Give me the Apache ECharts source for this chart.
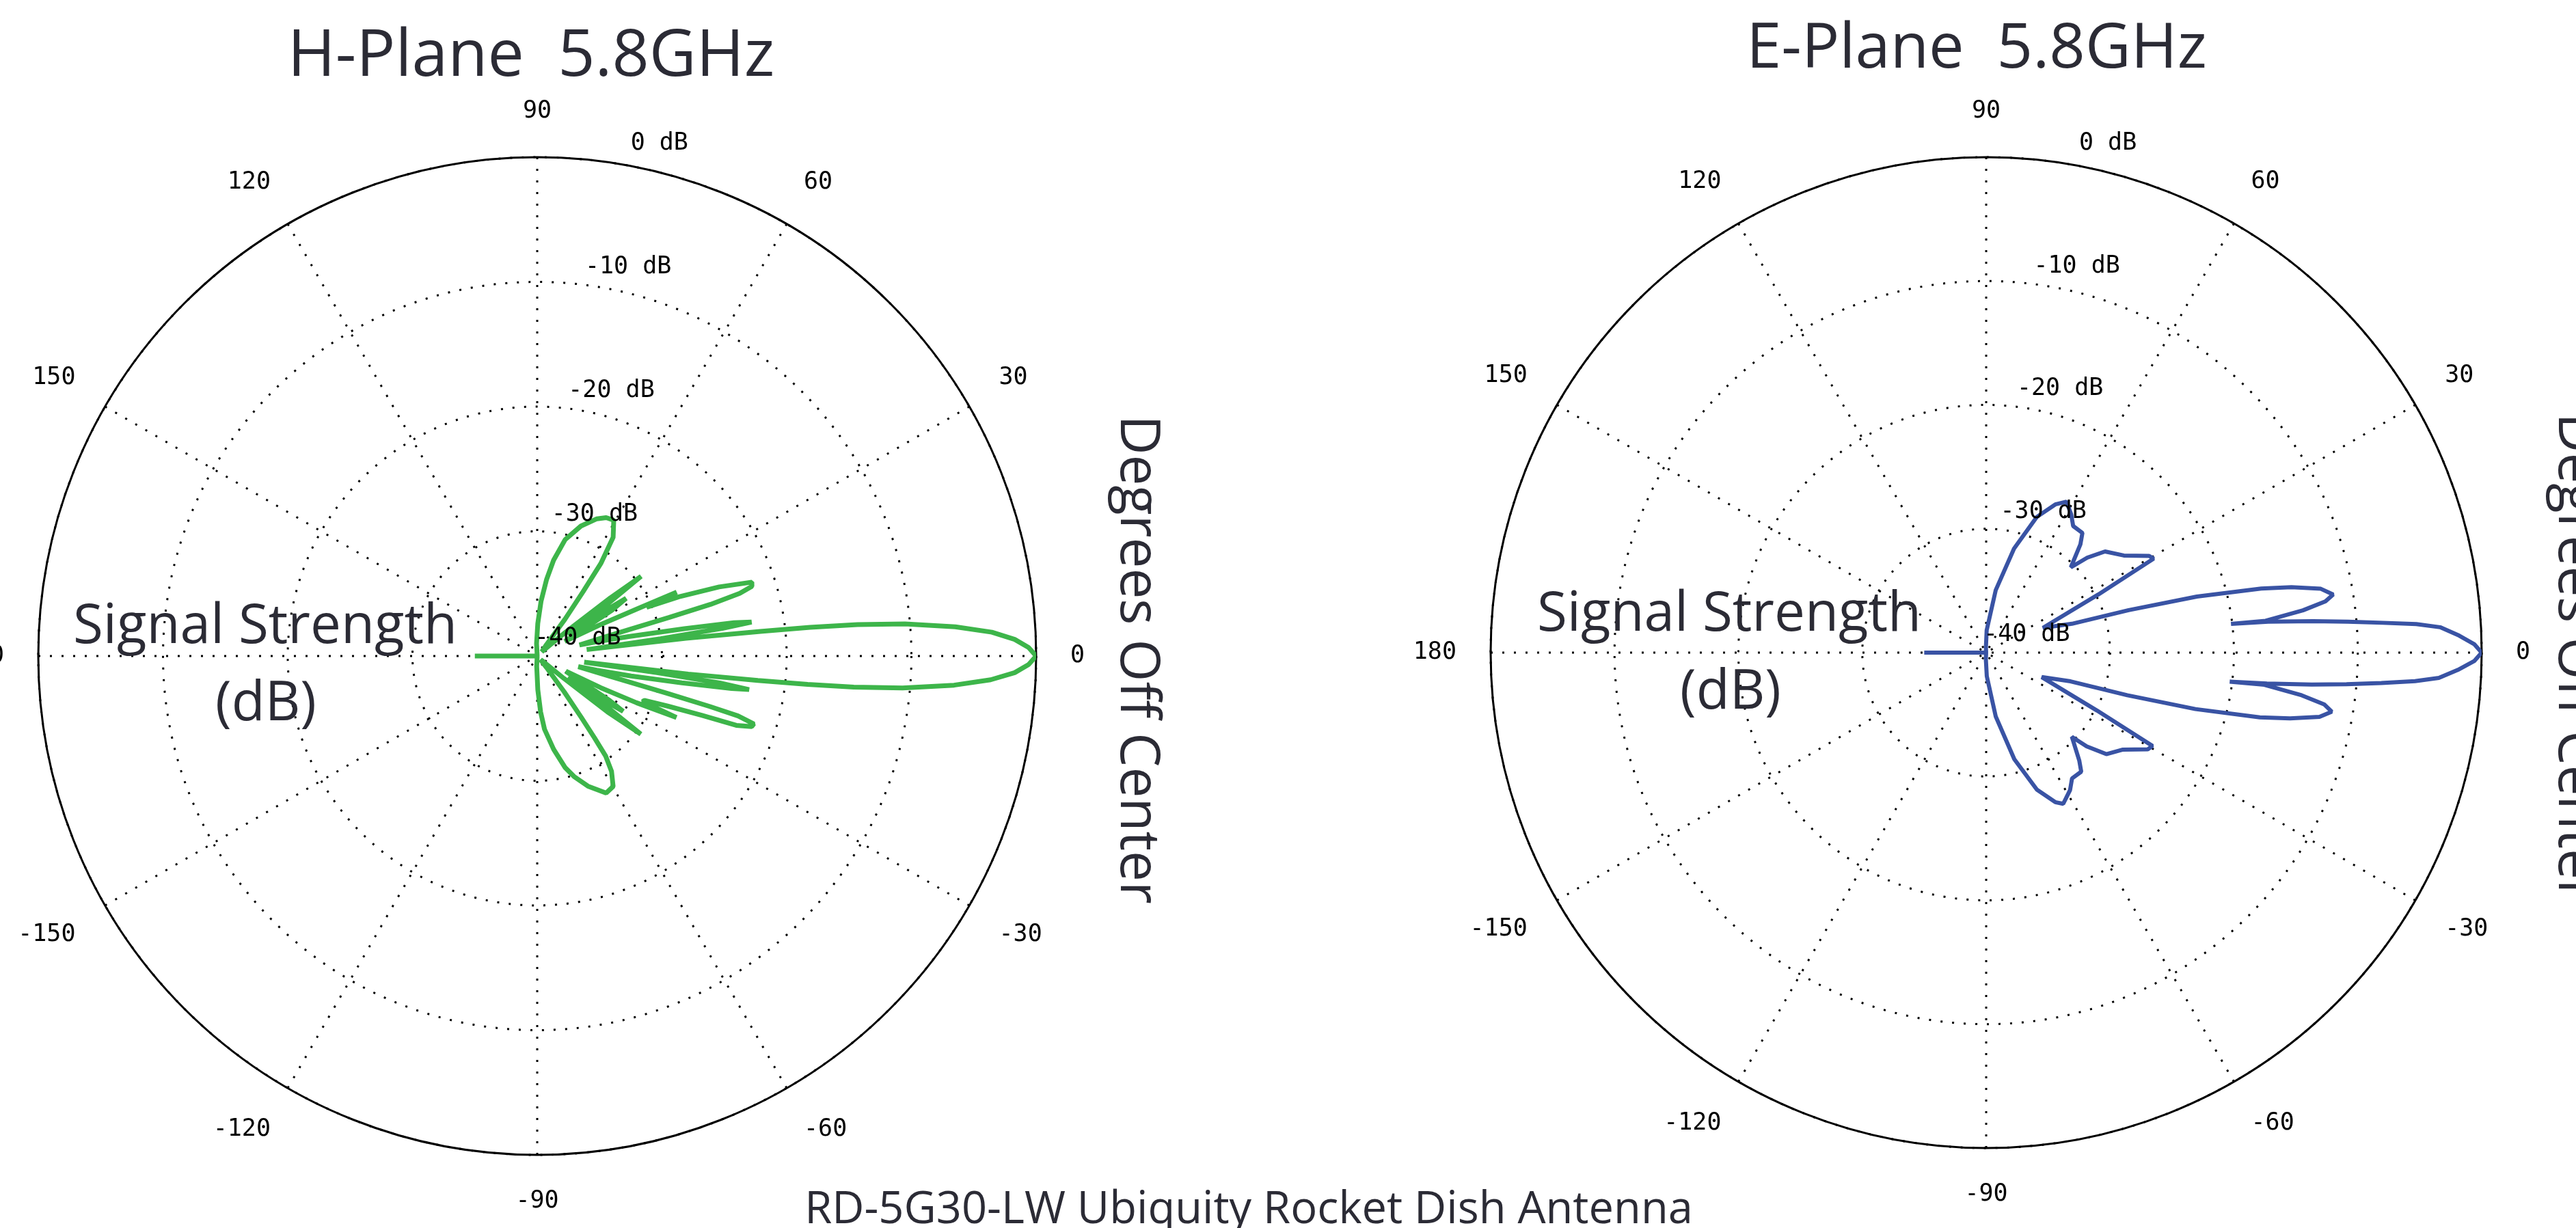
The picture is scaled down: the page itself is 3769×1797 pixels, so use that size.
<!DOCTYPE html>
<html>
<head>
<meta charset="utf-8">
<title>RD-5G30-LW radiation patterns</title>
<script src="https://cdn.jsdelivr.net/npm/echarts@6.0.0/dist/echarts.min.js"></script>
<style>
  html, body { margin: 0; padding: 0; background: #fff; }
  #chart { width: 3769px; height: 1797px; }
</style>
</head>
<body>
<div id="chart"></div>
<script>
// H-plane trace (green), degrees off center -> dB, in drawing order from -180 round to +180
const hAngle = [
  -180, -178, -100, -93, -89, -86.5, -84.3, -80, -76, -73, -68.7, -63.3, -59.8, -57.2, -55.6, -55, -54.3, -53, -51, -47, -43,
  -40, -38.5, -37, -36, -35, -34, -32.8, -31.5, -30, -28, -26.5, -25.2, -23.8, -23.4, -22.5, -21, -19.8, -19.2, -18.2, -17.4,
  -16.6, -16.3, -16, -15.6, -14.5, -13.4, -12, -10.5, -9.5, -9, -8.4, -7.9, -7.4, -6.8, -6.3, -6, -5.6, -5, -4, -3, -2, -1,
  0, 1, 2, 3, 4, 5, 5.6, 6, 6.3, 6.8, 7.4, 8, 8.5, 9, 9.6, 10.5, 12, 13.5, 14.6, 15.8, 16.3, 16.6, 17.2, 18, 19, 20.8, 22.7,
  24, 24.6, 25.2, 26.5, 28, 30, 31.5, 33, 34, 35.2, 36.5, 37.5, 38.5, 40, 43, 47, 51, 53, 54.5, 55.5, 57.4, 60.6, 63.5, 66.5,
  71.4, 76.5, 80.3, 83, 86, 89, 93, 100, 178, 180
];
const hGain = [
  -35, -40, -40, -39.2, -37.3, -35.5, -34.1, -32.4, -30.8, -29.9, -28.8, -27.7, -27.9, -29, -30.3, -32, -34, -36.4, -38.8, -39.6, -39.4,
  -37.2, -32.8, -29.6, -33.2, -37, -34.2, -31.8, -33.2, -36.3, -37.4, -34.3, -31.2, -27.8, -30.8, -30.7, -28.8, -26, -23.1, -21.9, -21.8,
  -23.2, -25.6, -29.2, -34, -36.6, -35.1, -32.3, -28.2, -24.2, -22.8, -25.2, -30.3, -36.2, -27.8, -22.2, -18.2, -14.5, -10.6, -6.5, -3.6, -1.7, -0.6,
  0, -0.6, -1.7, -3.5, -6.4, -10.4, -14.2, -18, -22, -28, -36, -30, -25, -22.6, -24, -28, -32.5, -35, -36.5, -34, -29, -25.5, -23, -21.9, -21.8, -24.4, -27.7,
  -30.4, -27.7, -31, -34.5, -37.5, -36, -33, -31.5, -34, -37, -33, -29.5, -32.5, -37, -39.5, -39.5, -38.8, -36.3, -33.7, -31, -28.7, -27.5, -27.6, -28,
  -29, -30.4, -32.2, -33.8, -35.6, -37.4, -39, -40, -40, -35
];

// E-plane trace (blue)
const eAngle = [
  -180, -178, -100, -93, -88.5, -81.5, -75.2, -69.7, -65.2, -63, -58.6, -55.7, -51.4, -49.2, -44.5, -43, -40.2, -35.5, -30.9, -29.3,
  -27.6, -23.8, -18.8, -16.8, -15.1, -13.3, -12.2, -10.9, -9.7, -8.7, -7.7, -6.6, -6.8, -6.3, -5.6, -5, -4.4, -3.8, -3.2, -2.1, -1,
  0, 1, 2.06, 3.2, 3.8, 4.3, 4.9, 5.5, 6.25, 6.7, 6.5, 7.6, 8.6, 9.5, 10.8, 12.1, 13.1, 14.9, 16.6, 18.6, 23.6, 27.4, 29.3, 30.7,
  35.2, 40.4, 43.2, 45.2, 49, 51.2, 55.5, 58.4, 62, 65, 69.5, 75, 81.3, 88.7, 93, 100, 178, 180
];
const eGain = [
  -35, -40, -40, -39.5, -38.1, -34.8, -31.1, -28.2, -26.7, -26.3, -27, -27.7, -27.7, -28.5, -30.3, -28.9, -27.3, -26.5, -24.8, -24.6,
  -29.9, -35.1, -32.8, -28.1, -22.5, -17.3, -14.9, -12.6, -11.7, -12.4, -14.3, -17.4, -20.2, -17.2, -13.6, -10.8, -8, -5.3, -3.4, -1.9, -0.6,
  0, -0.6, -1.8, -3.3, -5.2, -7.9, -10.7, -13.5, -17.1, -20.1, -17.3, -14.2, -12.3, -11.6, -12.5, -14.8, -17.2, -22.4, -28, -32.7, -35, -29.8, -24.5, -24.7,
  -26.4, -27.4, -28.8, -30.3, -28.4, -27.6, -27.6, -26.9, -26.2, -26.8, -28.3, -31.3, -34.9, -38.2, -39.6, -40, -40, -35
];

const ringDb = [0, -10, -20, -30, -40];
const ringLabelAngle = 82.25;

// the angle axis runs 90..450 counter-clockwise so that the radius axis sits at the top
const toAxis = a => (a < 90 ? a + 360 : a);
const polarData = (angles, gains) => angles.map((a, i) => [gains[i], toAxis(a)]);

const dotted = { color: '#000', width: 3, type: [3, 14] };
const mono = 'DejaVu Sans Mono';
const sans = 'Open Sans';
const ink = '#2b2b35';

function angleAxis(i) {
  return {
    polarIndex: i,
    type: 'value',
    min: 90,
    max: 450,
    interval: 30,
    startAngle: 90,
    clockwise: false,
    axisLine: { lineStyle: { color: '#000', width: 3 } },
    axisTick: { show: false },
    splitLine: { show: true, lineStyle: dotted },
    axisLabel: {
      margin: 50,
      fontFamily: mono,
      fontSize: 35,
      color: '#000',
      formatter: v => {
        if (v === 450) return '';
        let a = v % 360;
        if (a > 180) a -= 360;
        return String(a);
      }
    }
  };
}

function radiusAxis(i) {
  return {
    polarIndex: i,
    type: 'value',
    min: -40,
    max: 0,
    interval: 10,
    axisLine: { show: false },
    axisTick: { show: false },
    axisLabel: { show: false },
    splitLine: { show: true, lineStyle: dotted }
  };
}

// "0 dB" ... "-40 dB" next to the rings, placed through the polar scale
function ringLabels(i) {
  return {
    type: 'scatter',
    coordinateSystem: 'polar',
    polarIndex: i,
    symbolSize: 1,
    itemStyle: { color: 'rgba(0,0,0,0)' },
    silent: true,
    data: ringDb.map(v => [v, toAxis(ringLabelAngle)]),
    label: {
      show: true,
      opacity: 1,
      formatter: p => p.value[0] + ' dB',
      position: [123, -26],
      align: 'right',
      verticalAlign: 'middle',
      fontFamily: mono,
      fontSize: 35,
      color: '#000'
    },
    z: 4
  };
}

function text(x, y, str, size, extra) {
  return Object.assign({
    type: 'text',
    x: x,
    y: y,
    silent: true,
    style: {
      text: str,
      fontFamily: sans,
      fontSize: size,
      fill: ink,
      align: 'center',
      verticalAlign: 'middle'
    },
    z: 10
  }, extra || {});
}

const chart = echarts.init(document.getElementById('chart'));
chart.setOption({
  animation: false,
  backgroundColor: '#fff',
  polar: [
    { center: [786, 960], radius: 730 },
    { center: [2906, 955], radius: 725 }
  ],
  angleAxis: [angleAxis(0), angleAxis(1)],
  radiusAxis: [radiusAxis(0), radiusAxis(1)],
  series: [
    {
      name: 'H-Plane',
      type: 'line',
      coordinateSystem: 'polar',
      polarIndex: 0,
      data: polarData(hAngle, hGain),
      symbol: 'none',
      clip: false,
      lineStyle: { color: '#3db54a', width: 7 },
      z: 3
    },
    {
      name: 'E-Plane',
      type: 'line',
      coordinateSystem: 'polar',
      polarIndex: 1,
      data: polarData(eAngle, eGain),
      symbol: 'none',
      clip: false,
      lineStyle: { color: '#3953a4', width: 6 },
      z: 3
    },
    ringLabels(0),
    ringLabels(1)
  ],
  graphic: [
    text(777, 84, 'H-Plane  5.8GHz', 95),
    text(2892, 73, 'E-Plane  5.8GHz', 92),
    text(388, 918, 'Signal Strength', 80),
    text(389, 1031, '(dB)', 80),
    text(2530, 900, 'Signal Strength', 80),
    text(2532, 1014, '(dB)', 80),
    text(1663, 965, 'Degrees Off Center', 80, { rotation: -Math.PI / 2 }),
    text(3767, 962, 'Degrees Off Center', 80, { rotation: -Math.PI / 2 }),
    text(1827, 1771, 'RD-5G30-LW Ubiquity Rocket Dish Antenna', 65)
  ]
});
</script>
</body>
</html>
